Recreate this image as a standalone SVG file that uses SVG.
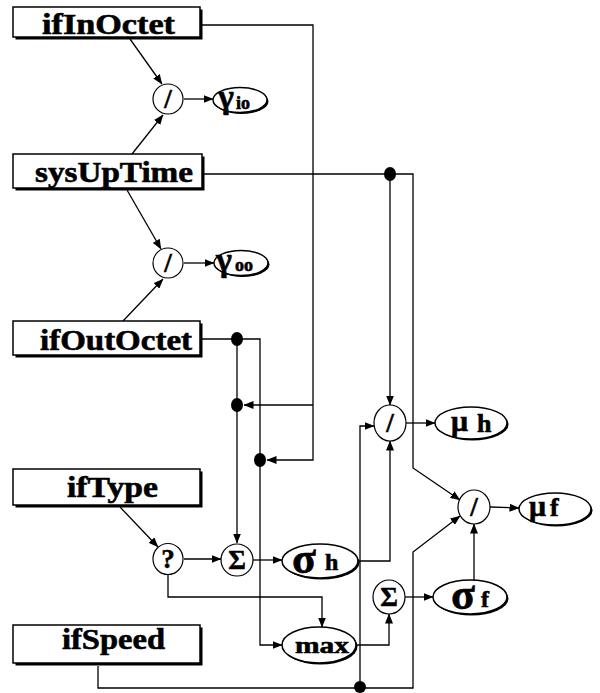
<svg xmlns="http://www.w3.org/2000/svg" width="600" height="693" viewBox="0 0 600 693">
<defs>
<marker id="ah" markerWidth="10" markerHeight="8" refX="9.5" refY="4" orient="auto" markerUnits="userSpaceOnUse"><path d="M0,0 L10,4 L0,8 z" fill="#000"/></marker>
<style>
.box{fill:#fff;stroke:#000;stroke-width:1.5}
.sh{fill:#000}
.lbl{font-family:"Liberation Serif","Times New Roman",serif;font-weight:bold;font-size:30px;fill:#000;stroke:#000;stroke-width:0.6}
.op{fill:#fff;stroke:#000;stroke-width:1.2}
.ov{fill:#fff;stroke:#000;stroke-width:1.5}
.c{fill:none;stroke:#000;stroke-width:1.3}
.a{marker-end:url(#ah)}
.dot{fill:#000}
.sym{font-family:"Liberation Serif","Times New Roman",serif;font-weight:bold;font-size:27px;text-anchor:middle;fill:#000;stroke:#000;stroke-width:0.5}
.gk{font-family:"Liberation Serif","Times New Roman",serif;font-weight:bold;fill:#000;stroke:#000;stroke-width:0.6}
</style>
</defs>
<rect width="600" height="693" fill="#fff"/>

<g id="connectors">
<path class="c a" d="M130,39 L162,84"/>
<path class="c a" d="M132,154 L163,115"/>
<path class="c a" d="M184,99 L213,99"/>
<path class="c a" d="M127,190 L161,249"/>
<path class="c a" d="M123,321 L163,279"/>
<path class="c a" d="M184,263 L214,263"/>
<path class="c a" d="M202,25 L313,25 L313,460 L267,460"/>
<path class="c a" d="M313,405 L244,405"/>
<path class="c" d="M202,174 L390,174"/>
<path class="c a" d="M390,174 L413,174 L413,468 L460,500"/>
<path class="c a" d="M390,174 L390,405"/>
<path class="c" d="M202,339 L260,339 L260,460"/>
<path class="c a" d="M237,339 L237,543"/>
<path class="c a" d="M260,460 L260,645 L282,645"/>
<path class="c a" d="M120,507 L158,547"/>
<path class="c a" d="M184,559 L221,559"/>
<path class="c a" d="M253,560 L282,560"/>
<path class="c a" d="M168,575 L168,597 L322,597 L322,627"/>
<path class="c a" d="M356,645 L389,645 L389,614"/>
<path class="c a" d="M405,597 L433,597"/>
<path class="c a" d="M474,580 L474,524"/>
<path class="c a" d="M358,561 L390,561 L390,441"/>
<path class="c a" d="M98,666 L98,688 L413,688 L413,552 L460,516"/>
<path class="c a" d="M360,688 L360,426 L374,426"/>
<path class="c a" d="M406,423 L435,423"/>
<path class="c a" d="M490,507 L519,508"/>
<ellipse class="dot" cx="237" cy="339" rx="6" ry="7"/>
<ellipse class="dot" cx="237" cy="405" rx="6" ry="7"/>
<ellipse class="dot" cx="260" cy="460" rx="6" ry="7"/>
<ellipse class="dot" cx="390" cy="174" rx="6" ry="7"/>
<ellipse class="dot" cx="360" cy="687" rx="6" ry="6"/>
</g>

<g id="ifInOctet">
<rect class="sh" x="15.5" y="9.5" width="187" height="30"/>
<rect class="box" x="13" y="7" width="187" height="30"/>
<text class="lbl" x="42" y="34" textLength="133" lengthAdjust="spacingAndGlyphs">ifInOctet</text>
</g>
<g id="sysUpTime">
<rect class="sh" x="15.5" y="156.5" width="189" height="34"/>
<rect class="box" x="13" y="154" width="189" height="34"/>
<text class="lbl" x="35" y="182" textLength="158" lengthAdjust="spacingAndGlyphs">sysUpTime</text>
</g>
<g id="ifOutOctet">
<rect class="sh" x="15.5" y="323.5" width="187" height="34"/>
<rect class="box" x="13" y="321" width="187" height="34"/>
<text class="lbl" x="40" y="350" textLength="152" lengthAdjust="spacingAndGlyphs">ifOutOctet</text>
</g>
<g id="ifType">
<rect class="sh" x="15.5" y="471.5" width="187" height="36"/>
<rect class="box" x="13" y="469" width="187" height="36"/>
<text class="lbl" x="67" y="497" textLength="91" lengthAdjust="spacingAndGlyphs">ifType</text>
</g>
<g id="ifSpeed">
<rect class="sh" x="15.5" y="627.5" width="187" height="38"/>
<rect class="box" x="13" y="625" width="187" height="38"/>
<text class="lbl" x="62" y="649" textLength="103" lengthAdjust="spacingAndGlyphs">ifSpeed</text>
</g>

<g id="div_io">
<ellipse class="op" cx="168" cy="99" rx="15" ry="15"/>
<text class="sym" x="168" y="108">/</text>
</g>
<g id="gamma_io">
<ellipse class="sh" cx="241.5" cy="101.5" rx="27" ry="12.5"/>
<ellipse class="ov" cx="240" cy="100" rx="27" ry="12.5"/>
<text class="gk" x="218" y="108" font-size="34">γ</text>
<text class="gk" x="236" y="109" font-size="18">io</text>
</g>
<g id="div_oo">
<ellipse class="op" cx="168" cy="263" rx="15" ry="15"/>
<text class="sym" x="168" y="272">/</text>
</g>
<g id="gamma_oo">
<ellipse class="sh" cx="242.5" cy="264.5" rx="27" ry="12.5"/>
<ellipse class="ov" cx="241" cy="263" rx="27" ry="12.5"/>
<text class="gk" x="216" y="271" font-size="34">γ</text>
<text class="gk" x="235" y="271" font-size="18">oo</text>
</g>
<g id="cond">
<ellipse class="op" cx="168" cy="559" rx="15" ry="15.5"/>
<text class="sym" x="168" y="568">?</text>
</g>
<g id="sum_h">
<ellipse class="op" cx="237" cy="560" rx="16" ry="16"/>
<text class="sym" x="237" y="569">Σ</text>
</g>
<g id="sigma_h">
<ellipse class="sh" cx="321.5" cy="562.5" rx="38" ry="17"/>
<ellipse class="ov" cx="320" cy="561" rx="38" ry="17"/>
<text class="gk" x="292" y="573" font-size="44">σ</text>
<text class="gk" x="325" y="570" font-size="24">h</text>
</g>
<g id="max">
<ellipse class="sh" cx="320.5" cy="646.5" rx="37" ry="18"/>
<ellipse class="ov" cx="319" cy="645" rx="37" ry="18"/>
<text class="gk" x="295" y="653" font-size="24" textLength="54" lengthAdjust="spacingAndGlyphs">max</text>
</g>
<g id="sum_f">
<ellipse class="op" cx="389" cy="597" rx="16" ry="17"/>
<text class="sym" x="389" y="606">Σ</text>
</g>
<g id="sigma_f">
<ellipse class="sh" cx="471.5" cy="598.5" rx="37" ry="17"/>
<ellipse class="ov" cx="470" cy="597" rx="37" ry="17"/>
<text class="gk" x="451" y="609" font-size="44">σ</text>
<text class="gk" x="481" y="607" font-size="24">f</text>
</g>
<g id="div_h">
<ellipse class="op" cx="390" cy="423" rx="16" ry="18"/>
<text class="sym" x="390" y="432">/</text>
</g>
<g id="mu_h">
<ellipse class="sh" cx="472.5" cy="424.5" rx="36" ry="16"/>
<ellipse class="ov" cx="471" cy="423" rx="36" ry="16"/>
<text class="gk" x="451" y="431" font-size="30">μ</text>
<text class="gk" x="477" y="432" font-size="26">h</text>
</g>
<g id="div_f">
<ellipse class="op" cx="474" cy="507" rx="16" ry="17"/>
<text class="sym" x="474" y="516">/</text>
</g>
<g id="mu_f">
<ellipse class="sh" cx="556.5" cy="510.5" rx="36" ry="16"/>
<ellipse class="ov" cx="555" cy="509" rx="36" ry="16"/>
<text class="gk" x="529" y="516" font-size="30">μ</text>
<text class="gk" x="550" y="516" font-size="26">f</text>
</g>
</svg>
